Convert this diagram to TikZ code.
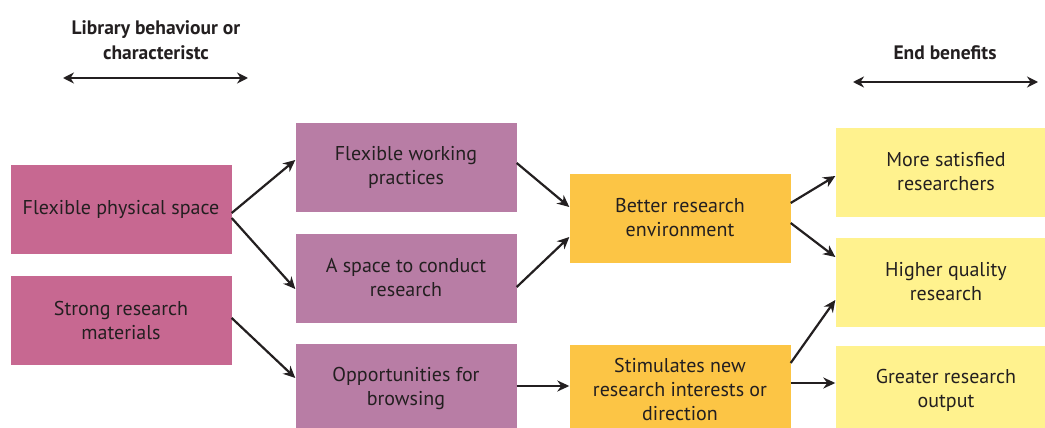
\documentclass[tikz,border=0pt]{standalone}
\usepackage{fontspec}
\setmainfont{PT Sans}
\usetikzlibrary{arrows.meta,calc}
\definecolor{cpink}{HTML}{C76891}
\definecolor{cmauve}{HTML}{B87DA5}
\definecolor{corange}{HTML}{FCC545}
\definecolor{cyellow}{HTML}{FFF28E}
\definecolor{ctext}{HTML}{231F20}
\tikzset{
  box/.style={minimum width=221pt, minimum height=89pt, inner sep=0pt, align=center,
    text=ctext, font=\fontsize{20}{24}\selectfont},
  pinkbox/.style={box, fill=cpink},
  mauvebox/.style={box, fill=cmauve},
  orangebox/.style={box, fill=corange},
  yellowbox/.style={box, fill=cyellow},
  arr/.style={draw=ctext, line width=2.2pt, -{Stealth[length=12pt,width=11pt]}},
  darr/.style={draw=ctext, line width=2.4pt, {Stealth[length=11pt,width=11pt]}-{Stealth[length=11pt,width=11pt]}},
  head/.style={align=center, text=ctext, font=\bfseries\fontsize{19.5}{25}\selectfont, inner sep=0pt}
}
\begin{document}
\begin{tikzpicture}[x=1pt,y=-1pt]
\useasboundingbox (0,0) rectangle (1045,428);
\clip (0,0) rectangle (1045,428);
\fill[white] (0,0) rectangle (1045,428);
% headers
\node[head] (h1) at (156,40) {Library behaviour or\\characteristc};
\coordinate (a1l) at (63,78);
\coordinate (a1r) at (248,78);
\draw[darr] (a1l) -- (a1r);
\node[head] (h2) at (945,53) {End benefits};
\coordinate (a2l) at (853,82);
\coordinate (a2r) at (1038,82);
\draw[darr] (a2l) -- (a2r);
% boxes
\node[pinkbox] (fps) at (121,209.5) {Flexible physical space};
\node[pinkbox] (srm) at (121,320.5) {Strong research\\materials};
\node[mauvebox] (fwp) at (406,167) {Flexible working\\practices};
\node[mauvebox] (spc) at (406,278) {A space to conduct\\research};
\node[mauvebox] (opp) at (406,388) {Opportunities for\\browsing};
\node[orangebox] (bre) at (680,218) {Better research\\environment};
\node[orangebox] (stim) at (680,389) {Stimulates new\\research interests or\\direction};
\node[yellowbox] (msr) at (946,172) {More satisfied\\researchers};
\node[yellowbox] (hqr) at (946,282) {Higher quality\\research};
\node[yellowbox] (gro) at (946,390) {Greater research\\output};
% connectors
\draw[arr] ([yshift=-3.5pt]fps.east) -- ([yshift=7pt]fwp.west);
\draw[arr] ([yshift=-8.5pt]fps.east) -- ([yshift=-11pt]spc.west);
\draw[arr] ([yshift=2.5pt]srm.east) -- ([yshift=10pt]opp.west);
\draw[arr] ([yshift=4pt]fwp.east) -- ([yshift=11pt]bre.west);
\draw[arr] ([yshift=-9pt]spc.east) -- ([yshift=-19pt]bre.west);
\draw[arr] ([yshift=2pt]opp.east) -- ([yshift=3pt]stim.west);
\draw[arr] ([yshift=15pt]bre.east) -- ([yshift=-4pt]msr.west);
\draw[arr] ([yshift=-5pt]bre.east) -- ([yshift=25pt]hqr.west);
\draw[arr] ([yshift=26pt]stim.east) -- ([yshift=-18pt]hqr.west);
\draw[arr] ([yshift=6pt]stim.east) -- ([yshift=7pt]gro.west);
\end{tikzpicture}
\end{document}
